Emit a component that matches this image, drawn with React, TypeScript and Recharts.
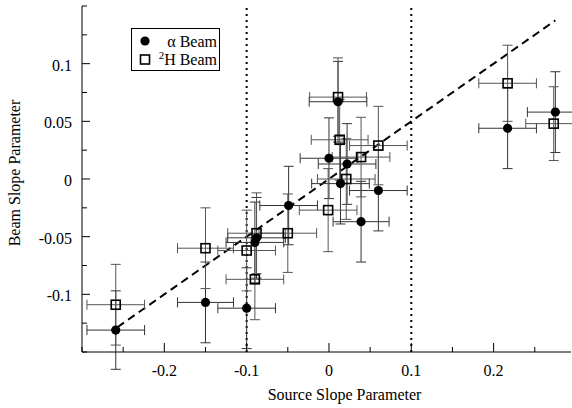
import React from 'react';
import { ScatterChart, Scatter, XAxis, YAxis, ErrorBar, ReferenceLine, Legend } from 'recharts';

// alpha beam (filled circles)
const alphaX = [-0.259, -0.15, -0.1, -0.09, -0.088, -0.049, 0.0, 0.011, 0.014, 0.022, 0.039, 0.06, 0.217, 0.275];
const alphaY = [-0.131, -0.107, -0.112, -0.055, -0.051, -0.023, 0.018, 0.067, -0.004, 0.013, -0.037, -0.01, 0.044, 0.058];
const alphaXErr = [0.035, 0.034, 0.035, 0.035, 0.035, 0.035, 0.035, 0.035, 0.035, 0.035, 0.034, 0.035, 0.035, 0.034];
const alphaYErr = [0.034, 0.035, 0.035, 0.035, 0.035, 0.034, 0.035, 0.035, 0.035, 0.035, 0.035, 0.035, 0.035, 0.035];

// deuteron beam (open squares)
const deutX = [-0.259, -0.15, -0.1, -0.09, -0.088, -0.05, -0.001, 0.011, 0.013, 0.021, 0.039, 0.06, 0.217, 0.273];
const deutY = [-0.109, -0.06, -0.062, -0.087, -0.047, -0.047, -0.027, 0.071, 0.034, 0.0, 0.019, 0.029, 0.083, 0.048];
const deutXErr = [0.035, 0.034, 0.035, 0.035, 0.035, 0.035, 0.035, 0.0345, 0.0345, 0.035, 0.035, 0.035, 0.035, 0.034];
const deutYErr = [0.035, 0.035, 0.035, 0.035, 0.035, 0.034, 0.036, 0.034, 0.035, 0.035, 0.0345, 0.034, 0.033, 0.032];

// fitted line y = x/2
const fitX = [-0.257, 0.275];
const fitY = [-0.1285, 0.1375];

const cutX = [-0.1, 0.1];

const xTicks = [-0.3, -0.25, -0.2, -0.15, -0.1, -0.05, 0, 0.05, 0.1, 0.15, 0.2, 0.25];
const xLabels = [-0.2, -0.1, 0, 0.1, 0.2];
const yTicks = [-0.15, -0.125, -0.1, -0.075, -0.05, -0.025, 0, 0.025, 0.05, 0.075, 0.1, 0.125, 0.15];
const yLabels = [-0.1, -0.05, 0, 0.05, 0.1];

const alphaData = alphaX.map((x, i) => ({ x, y: alphaY[i], ex: alphaXErr[i], ey: alphaYErr[i] }));
const deutData = deutX.map((x, i) => ({ x, y: deutY[i], ex: deutXErr[i], ey: deutYErr[i] }));

const FONT = "'Liberation Serif', 'Times New Roman', serif";
const has = (list: number[], v: number) => list.some(l => Math.abs(l - v) < 1e-9);
const fmt = (v: number) => String(Number(v.toFixed(3)));

const BottomTick = ({ x, y, payload }: any) => {
  const major = has(xLabels, payload.value);
  return (
    <g>
      <line x1={x} y1={y} x2={x} y2={y - (major ? 9 : 5)} stroke="#000" />
      {major && (
        <text x={x} y={y + 24} textAnchor="middle" fontFamily={FONT} fontSize={16} fill="#000">
          {fmt(payload.value)}
        </text>
      )}
    </g>
  );
};

const TopTick = ({ x, y, payload }: any) => {
  const major = has(xLabels, payload.value);
  return <line x1={x} y1={y} x2={x} y2={y + (major ? 9 : 5)} stroke="#000" />;
};

const LeftTick = ({ x, y, payload }: any) => {
  const major = has(yLabels, payload.value);
  return (
    <g>
      <line x1={x} y1={y} x2={x + (major ? 8 : 5)} y2={y} stroke="#000" />
      {major && (
        <text x={x - 10} y={y + 7} textAnchor="end" fontFamily={FONT} fontSize={16} fill="#000">
          {fmt(payload.value)}
        </text>
      )}
    </g>
  );
};

const RightTick = ({ x, y, payload }: any) => {
  const major = has(yLabels, payload.value);
  return <line x1={x} y1={y} x2={x - (major ? 8 : 5)} y2={y} stroke="#000" />;
};

const Dot = (props: any) => <circle cx={props.cx} cy={props.cy} r={4.6} fill="#000" />;
const Square = (props: any) => (
  <rect x={props.cx - 4.5} y={props.cy - 4.5} width={9} height={9} fill="none" stroke="#000" strokeWidth={1.6} />
);

const LegendBox = () => (
  <svg width={89} height={43} style={{ display: 'block' }}>
    <rect x={0.5} y={0.5} width={88} height={42} fill="#fff" stroke="#000" />
    <circle cx={14} cy={13} r={4.6} fill="#000" />
    <rect x={9.5} y={27} width={9} height={9} fill="none" stroke="#000" strokeWidth={1.6} />
    <text x={86} y={19} textAnchor="end" fontFamily={FONT} fontSize={16} fill="#000">α Beam</text>
    <text x={86} y={37} textAnchor="end" fontFamily={FONT} fontSize={16} fill="#000">
      <tspan fontSize={11} dy={-6}>2</tspan>
      <tspan dy={6}>H Beam</tspan>
    </text>
  </svg>
);

const App: React.FC = () => {
  return (
    <div style={{ position: 'absolute', left: 0, top: 0, width: 572, height: 408, background: '#fff' }}>
      <ScatterChart width={572} height={408} margin={{ top: 6, right: 1, bottom: 0, left: 0 }}>
        <XAxis
          dataKey="x"
          type="number"
          domain={[-0.3, 0.294]}
          allowDataOverflow
          ticks={xTicks}
          interval={0}
          height={56}
          tickSize={0}
          tickMargin={0}
          tick={<BottomTick />}
          stroke="#000"
          label={{
            content: ({ viewBox }: any) => (
              <text
                x={viewBox.x + viewBox.width / 2 + 18}
                y={viewBox.y + 48}
                textAnchor="middle"
                fontFamily={FONT}
                fontSize={16}
                fill="#000"
              >
                Source Slope Parameter
              </text>
            ),
          }}
        />
        <XAxis
          xAxisId="top"
          orientation="top"
          type="number"
          domain={[-0.3, 0.294]}
          allowDataOverflow
          ticks={xTicks}
          interval={0}
          height={0}
          tickSize={0}
          tickMargin={0}
          tick={<TopTick />}
          stroke="#000"
        />
        <YAxis
          dataKey="y"
          type="number"
          domain={[-0.15, 0.15]}
          allowDataOverflow
          ticks={yTicks}
          interval={0}
          width={82}
          tickSize={0}
          tickMargin={0}
          tick={<LeftTick />}
          stroke="#000"
          label={{
            content: ({ viewBox }: any) => {
              const cy = viewBox.y + viewBox.height / 2 - 6;
              return (
                <text
                  x={20}
                  y={cy}
                  transform={`rotate(-90, 20, ${cy})`}
                  textAnchor="middle"
                  fontFamily={FONT}
                  fontSize={16}
                  fill="#000"
                >
                  Beam Slope Parameter
                </text>
              );
            },
          }}
        />
        <YAxis
          yAxisId="right"
          orientation="right"
          type="number"
          domain={[-0.15, 0.15]}
          allowDataOverflow
          ticks={yTicks}
          interval={0}
          width={0}
          tickSize={0}
          tickMargin={0}
          tick={<RightTick />}
          stroke="#000"
        />
        {cutX.map(v => (
          <ReferenceLine key={v} x={v} stroke="#000" strokeWidth={2} strokeDasharray="2 4" />
        ))}
        <ReferenceLine
          segment={[{ x: fitX[0], y: fitY[0] }, { x: fitX[1], y: fitY[1] }]}
          stroke="#000"
          strokeWidth={2}
          strokeDasharray="8 5"
        />
        <Scatter name="α Beam" data={alphaData} shape={<Dot />} isAnimationActive={false}>
          <ErrorBar dataKey="ex" direction="x" width={5} stroke="#333" strokeWidth={1} />
          <ErrorBar dataKey="ey" direction="y" width={5} stroke="#333" strokeWidth={1} />
        </Scatter>
        <Scatter name="2H Beam" data={deutData} shape={<Square />} isAnimationActive={false}>
          <ErrorBar dataKey="ex" direction="x" width={5} stroke="#555" strokeWidth={1} />
          <ErrorBar dataKey="ey" direction="y" width={5} stroke="#555" strokeWidth={1} />
        </Scatter>
        <Legend
          layout="horizontal"
          verticalAlign="middle"
          align="center"
          content={() => <LegendBox />}
          wrapperStyle={{ position: 'absolute', left: 131, top: 28, width: 89, height: 43 }}
        />
      </ScatterChart>
    </div>
  );
};

export default App;
